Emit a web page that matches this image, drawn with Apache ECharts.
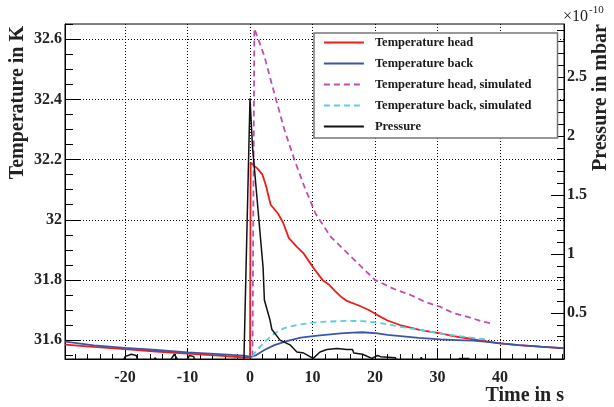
<!DOCTYPE html>
<html><head><meta charset="utf-8">
<script src="https://cdn.jsdelivr.net/npm/echarts@6/dist/echarts.min.js"></script>
<style>html,body{margin:0;padding:0;background:#fff}#c{width:614px;height:407px}</style>
</head><body><div id="c"></div>
<script>
// ---- axis ranges & ticks ----
const xMin = -29.6, xMax = 50.24;
const tMin = 31.537, tMax = 32.651;
const pMin = 0.11, pMax = 2.95;
const xTicks = [-20, -10, 0, 10, 20, 30, 40];
const xMinorTicks = [-28, -26, -24, -22, -18, -16, -14, -12, -8, -6, -4, -2, 2, 4, 6, 8, 12, 14, 16, 18, 22, 24, 26, 28, 32, 34, 36, 38, 42, 44, 46, 48, 50];
const tTicks = [31.6, 31.8, 32, 32.2, 32.4, 32.6];
const tMinorTicks = [31.55, 31.65, 31.7, 31.75, 31.85, 31.9, 31.95, 32.05, 32.1, 32.15, 32.25, 32.3, 32.35, 32.45, 32.5, 32.55, 32.65];
const pTicks = [0.5, 1, 1.5, 2, 2.5];
const pMinorTicks = [0.2, 0.3, 0.4, 0.6, 0.7, 0.8, 0.9, 1.1, 1.2, 1.3, 1.4, 1.6, 1.7, 1.8, 1.9, 2.1, 2.2, 2.3, 2.4, 2.6, 2.7, 2.8, 2.9];

// ---- series data (time in s, temperature in K, pressure in 1e-10 mbar) ----
const headTime = [-29.6, -25, -20, -15, -10, -5, -1, 0.0, 0.1, 1.2, 2.0, 2.6, 3.3, 4.5, 5.3, 6.2, 7.5, 8.5, 9.5, 10.5, 11.6, 12.6, 13.5, 14.5, 15.5, 17.4, 19, 20.4, 22, 24, 26, 27.3, 29, 30.5, 32.5, 34.7, 37, 40, 43, 46.4, 50.24];
const headTemp = [31.585, 31.577, 31.570, 31.562, 31.555, 31.548, 31.542, 31.540, 32.19, 32.17, 32.15, 32.11, 32.05, 32.02, 31.99, 31.94, 31.91, 31.89, 31.86, 31.83, 31.80, 31.785, 31.765, 31.745, 31.73, 31.715, 31.70, 31.683, 31.665, 31.65, 31.64, 31.633, 31.627, 31.622, 31.613, 31.606, 31.598, 31.589, 31.583, 31.578, 31.572];

const backTime = [-29.6, -25, -20, -15, -10, -5, -1, 0.2, 1.0, 2.3, 3.9, 5.5, 6.5, 8.1, 10.8, 14.5, 16.5, 18, 20.4, 22, 24.1, 27, 30.5, 33, 35.7, 38, 40, 43, 46.4, 50.24];
const backTemp = [31.595, 31.582, 31.574, 31.567, 31.559, 31.553, 31.548, 31.544, 31.550, 31.567, 31.583, 31.594, 31.600, 31.608, 31.615, 31.622, 31.625, 31.626, 31.622, 31.617, 31.613, 31.607, 31.602, 31.600, 31.598, 31.594, 31.589, 31.583, 31.578, 31.573];

const simHeadTime = [0.4, 0.7, 2.3, 3.9, 5.5, 7.1, 8.7, 10.5, 12.9, 15.6, 18, 20, 23, 25.7, 28, 30.5, 32.5, 34.7, 37, 38.6];
const simHeadTemp = [31.545, 32.636, 32.544, 32.42, 32.30, 32.20, 32.11, 32.02, 31.944, 31.889, 31.84, 31.80, 31.77, 31.75, 31.727, 31.71, 31.69, 31.678, 31.663, 31.655];

const simBackTime = [0.4, 0.7, 2.3, 3.9, 5.5, 7.5, 10, 12, 15.6, 18, 20.4, 22, 24.1, 27.3, 30.5, 32.5, 34.7, 36.5, 38.4];
const simBackTemp = [31.545, 31.556, 31.594, 31.622, 31.640, 31.650, 31.658, 31.661, 31.664, 31.663, 31.658, 31.652, 31.644, 31.633, 31.622, 31.616, 31.610, 31.605, 31.601];

const presTime = [-29.6, -20.6, -20.0, -19.0, -18.2, -17.7, -15.6, -15.2, -14.2, -13.0, -12.1, -11.3, -10.2, -9.7, -9.0, -8.6, -1.0, 0.0, 0.4, 2.1, 2.3, 3.2, 3.5, 4.8, 6.4, 7.5, 8.6, 10.1, 11.2, 12.3, 13.9, 15.5, 16.4, 16.6, 18.0, 19.5, 20.4, 20.9, 21.0, 23.3, 23.5, 26.8, 27.4, 28.2, 33.3, 33.5, 35.0, 35.2, 38.5];
const presVal = [0.04, 0.04, 0.13, 0.15, 0.14, 0.05, 0.05, 0.12, 0.06, 0.08, 0.15, 0.08, 0.09, 0.14, 0.13, 0.04, 0.04, 2.32, 1.91, 0.88, 0.61, 0.44, 0.36, 0.27, 0.23, 0.17, 0.16, 0.115, 0.17, 0.19, 0.20, 0.19, 0.19, 0.16, 0.15, 0.115, 0.14, 0.13, 0.12, 0.12, 0.04, 0.04, 0.125, 0.04, 0.04, 0.115, 0.115, 0.04, 0.04];

const names = ['Temperature head', 'Temperature back', 'Temperature head, simulated', 'Temperature back, simulated', 'Pressure'];
const colors = ['#f01c1c', '#3a56a8', '#c04fb0', '#5ccde0', '#111111'];

const zip = (a, b) => a.map((v, i) => [v, b[i]]);
const FONT = 'Liberation Serif';
const fmt = v => String(+(+v).toFixed(2));

const chart = echarts.init(document.getElementById('c'), null, {renderer: 'canvas'});

function mkLine(i, t, v, yIdx, dashed, width) {
  return {
    name: names[i], type: 'line', xAxisIndex: 0, yAxisIndex: yIdx,
    data: zip(t, v), symbol: 'none', smooth: false, clip: true,
    lineStyle: {color: colors[i], width: width, type: dashed ? [6, 4] : 'solid'},
    itemStyle: {color: colors[i]},
    z: 3 + i
  };
}

chart.setOption({
  animation: false,
  backgroundColor: '#fff',
  grid: {left: 65, right: 50, top: 24, bottom: 48, show: true, borderColor: '#000', borderWidth: 1, backgroundColor: 'transparent', containLabel: false, outerBoundsMode: 'none'},
  legend: {
    orient: 'vertical', left: 314, top: 33,
    itemWidth: 40, itemHeight: 14, itemGap: 8,
    padding: [3, 26, 5, 9],
    backgroundColor: '#fff', borderColor: '#777', borderWidth: 1.5,
    itemStyle: {opacity: 0},
    lineStyle: {width: 1.8},
    textStyle: {fontFamily: FONT, fontWeight: 'bold', fontSize: 12.5, color: '#1a1a1a', padding: [0, 0, 0, 6]},
    data: names
  },
  xAxis: [
    {type: 'value', min: xMin, max: xMax, position: 'bottom',
      axisLine: {show: true, onZero: false, lineStyle: {color: '#000', width: 1}},
      axisTick: {show: true, inside: true, length: 10, customValues: xTicks, lineStyle: {color: '#000', width: 1}},
      axisLabel: {show: true, customValues: xTicks, formatter: fmt, margin: 11, fontFamily: FONT, fontWeight: 'bold', fontSize: 16, color: '#222'},
      splitLine: {show: true, lineStyle: {color: '#000', width: 1, type: [1, 2]}}
    },
    {type: 'value', min: xMin, max: xMax, position: 'bottom',
      axisLine: {show: false, onZero: false},
      axisTick: {show: true, inside: true, length: 5, customValues: xMinorTicks, lineStyle: {color: '#000', width: 1}},
      axisLabel: {show: false}, splitLine: {show: false}
    }
  ],
  yAxis: [
    {type: 'value', min: tMin, max: tMax, position: 'left',
      axisLine: {show: true, onZero: false, lineStyle: {color: '#000', width: 1}},
      axisTick: {show: true, inside: true, length: 15, customValues: tTicks, lineStyle: {color: '#000', width: 1}},
      axisLabel: {show: true, customValues: tTicks, formatter: fmt, margin: 3, fontFamily: FONT, fontWeight: 'bold', fontSize: 16, color: '#222'},
      splitLine: {show: true, lineStyle: {color: '#000', width: 1, type: [1, 2]}}
    },
    {type: 'value', min: pMin, max: pMax, position: 'right',
      axisLine: {show: true, onZero: false, lineStyle: {color: '#000', width: 1}},
      axisTick: {show: true, inside: true, length: 13, customValues: pTicks, lineStyle: {color: '#000', width: 1}},
      axisLabel: {show: true, customValues: pTicks, formatter: fmt, margin: 3, fontFamily: FONT, fontWeight: 'bold', fontSize: 16, color: '#222'},
      splitLine: {show: false}
    },
    {type: 'value', min: tMin, max: tMax, position: 'left',
      axisLine: {show: false, onZero: false},
      axisTick: {show: true, inside: true, length: 8, customValues: tMinorTicks, lineStyle: {color: '#000', width: 1}},
      axisLabel: {show: false}, splitLine: {show: false}
    },
    {type: 'value', min: pMin, max: pMax, position: 'right',
      axisLine: {show: false, onZero: false},
      axisTick: {show: true, inside: true, length: 7, customValues: pMinorTicks, lineStyle: {color: '#000', width: 1}},
      axisLabel: {show: false}, splitLine: {show: false}
    }
  ],
  series: [
    mkLine(0, headTime, headTemp, 0, false, 1.8),
    mkLine(1, backTime, backTemp, 0, false, 1.8),
    mkLine(2, simHeadTime, simHeadTemp, 0, true, 1.8),
    mkLine(3, simBackTime, simBackTemp, 0, true, 1.8),
    mkLine(4, presTime, presVal, 1, false, 1.5)
  ],
  graphic: [
    {type: 'text', x: 18, y: 26, rotation: Math.PI / 2,
      style: {text: 'Temperature in K', font: 'bold 20px "Liberation Serif"', fill: '#222', textAlign: 'right', textVerticalAlign: 'middle'}},
    {type: 'text', x: 601, y: 24, rotation: Math.PI / 2,
      style: {text: 'Pressure in mbar', font: 'bold 20px "Liberation Serif"', fill: '#222', textAlign: 'right', textVerticalAlign: 'middle'}},
    {type: 'text', x: 564, y: 396,
      style: {text: 'Time in s', font: 'bold 20px "Liberation Serif"', fill: '#222', textAlign: 'right', textVerticalAlign: 'middle'}},
    {type: 'text', x: 563, y: 17,
      style: {text: '\u00d710', font: '16px "Liberation Serif"', fill: '#222', textAlign: 'left', textVerticalAlign: 'middle'}},
    {type: 'text', x: 589, y: 10,
      style: {text: '-10', font: '11px "Liberation Serif"', fill: '#222', textAlign: 'left', textVerticalAlign: 'middle'}}
  ]
});
</script>
</body></html>
